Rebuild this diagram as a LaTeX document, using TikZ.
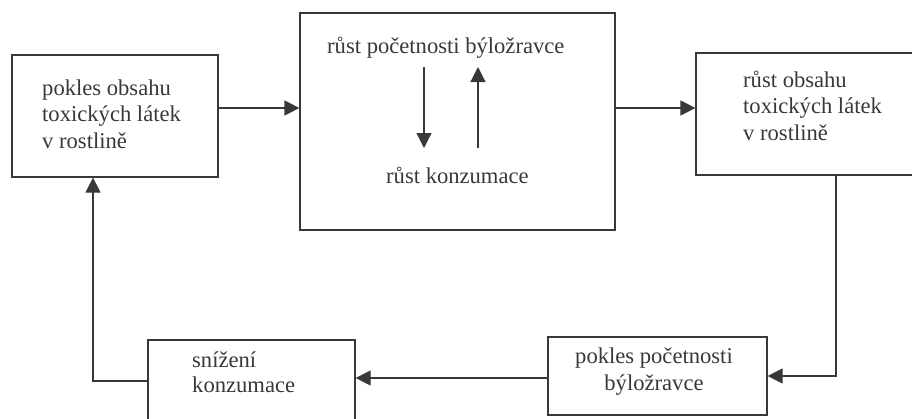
\documentclass[tikz,border=0pt]{standalone}
\usepackage{fontspec}
\setmainfont{Liberation Serif}
\usetikzlibrary{arrows.meta,calc}
\definecolor{ink}{HTML}{383838}
\begin{document}
\begin{tikzpicture}[x=1pt,y=-1pt,
  box/.style={draw=ink,line width=1.2pt,inner sep=0pt,rectangle},
  txt/.style={inner sep=0pt,text=ink,font=\fontsize{22.6}{26.5}\selectfont,align=left},
  arr/.style={draw=ink,line width=1.2pt,-{Triangle[length=15pt,width=15pt]}},
  ln/.style={draw=ink,line width=1.2pt}]
\useasboundingbox (0,0) rectangle (912,418);
% boxes
\node[box,minimum width=206pt,minimum height=122pt] (lb) at (115,116) {};
\node[box,minimum width=315pt,minimum height=217pt] (cb) at (457.5,121.5) {};
\node[box,minimum width=304pt,minimum height=122pt] (rb) at (848,114) {};
\node[box,minimum width=219pt,minimum height=78pt] (pb) at (657.5,376) {};
\node[box,minimum width=207pt,minimum height=80pt] (sb) at (251.5,380) {};
% texts (base anchor = baseline of the last line)
\node[txt,anchor=base west] (lt) at (42,148) {pokles obsahu\\toxických látek\\v rostlině};
\node[txt,anchor=base west] (ct) at (327,53) {růst početnosti býložravce};
\node[txt,anchor=base west] (cbt) at (386,183) {růst konzumace};
\node[txt,anchor=base west] (rt) at (743,140) {růst obsahu\\toxických látek\\v rostlině};
\node[txt,anchor=base,align=center,font=\fontsize{22.6}{27}\selectfont] (pt) at (654,390) {pokles početnosti\\býložravce};
\node[txt,anchor=base west,font=\fontsize{22.6}{25}\selectfont] (st) at (192,392) {snížení\\konzumace};
% inner arrows
\coordinate (d1) at (424,67); \coordinate (d2) at (424,148);
\coordinate (u1) at (478,148); \coordinate (u2) at (478,67);
\draw[arr] (d1) -- (d2);
\draw[arr] (u1) -- (u2);
% connectors
\draw[arr] (lb.east |- 0,108) -- (cb.west |- 0,108);
\draw[arr] (cb.east |- 0,108) -- (rb.west |- 0,108);
\draw[arr] (rb.south -| 836,0) |- (pb.east);
\draw[arr] (pb.west |- 0,378) -- (sb.east |- 0,378);
\draw[arr] (sb.west |- 0,381) -| (lb.south -| 93,0);
\end{tikzpicture}
\end{document}
